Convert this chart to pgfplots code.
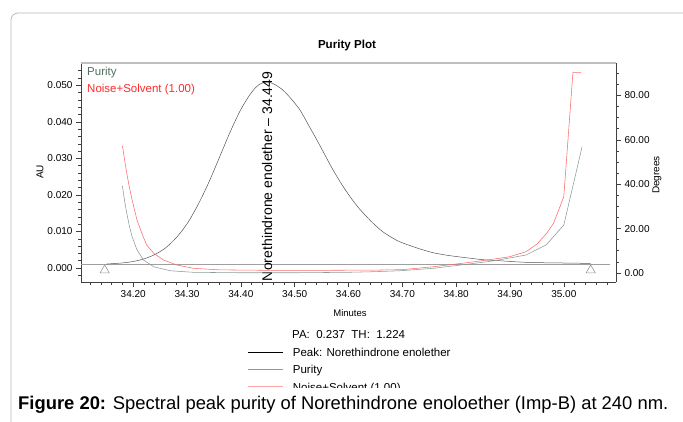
\documentclass[border=0pt]{standalone}
\usepackage{fontspec}
\setmainfont{Liberation Sans}
\usepackage{pgfplots}
\pgfplotsset{compat=1.18}
\definecolor{puritycol}{HTML}{8A9C93}
\definecolor{puritytxt}{HTML}{4F6F5F}
\definecolor{noisecol}{HTML}{FF6A6A}
\definecolor{noisetxt}{HTML}{FF2A2A}
\definecolor{chromcol}{HTML}{555555}
\definecolor{axcol}{HTML}{404040}
\newcommand\fs[1]{\fontsize{#1}{#1}\selectfont}
\pgfplotsset{
  common/.style={
    at={(81pt,-282.3pt)}, anchor=south west,
    scale only axis, width=535pt, height=219.3pt,
    xmin=34.103, xmax=35.097,
    tick align=outside,
    major tick length=5pt, minor tick length=3pt,
    every tick/.style={axcol, line width=0.6pt},
    axis line style={axcol, line width=0.6pt},
    ticklabel style={font=\fs{10}},
    /pgf/number format/assume math mode=true,
    clip=false,
  }
}
\begin{document}
\begin{tikzpicture}
\useasboundingbox (0pt,0pt) rectangle (683pt,-421pt);
\draw[gray!55, line width=0.8pt, rounded corners=7pt] (11pt,-440pt) -- (11pt,-13pt) -- (700pt,-13pt);

\begin{axis}[common,
  ymin=-0.0039, ymax=0.0561,
  axis y line*=left, axis x line*=bottom,
  xtick={34.2,34.3,34.4,34.5,34.6,34.7,34.8,34.9,35.0},
  minor xtick={34.12,34.14,...,35.09},
  ytick={0,0.01,0.02,0.03,0.04,0.05},
  minor ytick={-0.002,0,0.002,...,0.0555},
  xticklabel style={/pgf/number format/.cd, fixed, fixed zerofill, precision=2},
  yticklabel style={/pgf/number format/.cd, fixed, fixed zerofill, precision=3},
  scaled y ticks=false, scaled x ticks=false,
]
\addplot[gray!75, line width=0.6pt] coordinates {(34.103,0.0011) (35.085,0.0011)};
\addplot[chromcol, line width=0.5pt, smooth] coordinates {
(34.150,0.0011) (34.180,0.0014) (34.200,0.0018) (34.220,0.0025) (34.240,0.0037)
(34.260,0.0055) (34.280,0.0083) (34.300,0.0121) (34.320,0.0172) (34.340,0.0233)
(34.360,0.0302) (34.380,0.0372) (34.400,0.0434) (34.420,0.0481) (34.435,0.0503)
(34.449,0.0509) (34.462,0.0503)
(34.478,0.0487) (34.494,0.0462) (34.510,0.0432) (34.525,0.0393) (34.541,0.0351)
(34.556,0.0310) (34.571,0.0269) (34.587,0.0230) (34.603,0.0195) (34.618,0.0166)
(34.634,0.0140) (34.649,0.0118) (34.664,0.0099) (34.680,0.0084) (34.695,0.0072)
(34.727,0.0055) (34.757,0.0042) (34.788,0.0034) (34.820,0.0028) (34.849,0.0023)
(34.881,0.0020) (34.912,0.0017) (34.943,0.0015) (34.990,0.0014) (35.035,0.0013)
(35.050,0.0012)};
\addplot[only marks, mark=triangle, mark size=5.3pt, gray!80, mark options={line width=0.6pt}]
  coordinates {(34.147,-0.0006) (35.050,-0.0006)};
\node[rotate=90, anchor=west, inner sep=0pt, font=\fs{14}] at (axis cs:34.449,-0.0036)
  {Norethindrone enolether -- 34.449};
\end{axis}

\begin{axis}[common,
  ymin=-4.2, ymax=94.6,
  axis y line*=right, axis x line=none,
  ytick={0,20,40,60,80},
  minor ytick={-5,0,...,95},
  yticklabel style={/pgf/number format/.cd, fixed, fixed zerofill, precision=2},
]
\addplot[puritycol, line width=0.55pt] coordinates {
(34.180,39.2) (34.184,32.5) (34.188,26.9) (34.193,21.0) (34.198,16.4) (34.207,10.4)
(34.219,5.9) (34.238,2.8) (34.269,1.0) (34.312,0.3) (34.400,0.1) (34.500,0.1)
(34.600,0.3) (34.650,0.6) (34.695,1.0) (34.757,2.1) (34.819,3.9) (34.868,5.4)
(34.930,8.1) (34.967,12.6) (35.000,21.6) (35.034,56.9)};
\addplot[noisecol, line width=0.55pt] coordinates {
(34.180,57.2) (34.184,51.0) (34.188,44.9) (34.193,38.5) (34.198,32.9) (34.207,23.9)
(34.216,17.9) (34.225,12.6) (34.238,8.9) (34.256,5.9) (34.281,3.6) (34.312,2.1)
(34.361,1.4) (34.450,1.2) (34.550,1.2) (34.650,1.3) (34.700,1.5) (34.757,2.8)
(34.819,4.6) (34.868,6.2) (34.899,7.3) (34.930,9.6) (34.950,13.0) (34.967,17.5)
(34.981,22.4) (35.000,34.4) (35.017,90.4) (35.032,90.4)};
\draw[gray!50, line width=1.2pt] (rel axis cs:0,1) -- (rel axis cs:1,1);
\end{axis}

% titles and labels
\node[font=\bfseries\fs{11.6}, inner sep=0pt] at (347pt,-45.5pt) {Purity Plot};
\node[rotate=90, font=\fs{10}, inner sep=0pt] at (40pt,-172pt) {AU};
\node[rotate=90, font=\fs{10}, inner sep=0pt] at (657pt,-175pt) {Degrees};
\node[font=\fs{9.5}, inner sep=0pt] at (350pt,-313pt) {Minutes};
\node[anchor=west, font=\fs{11.5}, text=puritytxt, inner sep=0pt] at (87pt,-73pt) {Purity};
\node[anchor=west, font=\fs{11.5}, text=noisetxt, inner sep=0pt] at (87pt,-90pt) {Noise+Solvent (1.00)};

% legend below
\node[anchor=base west, font=\fs{11.5}, inner sep=0pt] at (292pt,-338pt) {PA:\ \ 0.237\ \ TH:\ \ 1.224};
\draw[black, line width=0.8pt] (248pt,-352.7pt) -- (283pt,-352.7pt);
\node[anchor=base west, font=\fs{11.5}, inner sep=0pt] at (292.7pt,-356.8pt) {Peak: Norethindrone enolether};
\draw[puritycol, line width=0.8pt] (248pt,-369.5pt) -- (283pt,-369.5pt);
\node[anchor=base west, font=\fs{11.5}, inner sep=0pt] at (292.7pt,-373.8pt) {Purity};
\draw[noisecol!60, line width=0.8pt] (248pt,-386.5pt) -- (283pt,-386.5pt);
\node[anchor=base west, font=\fs{11.5}, inner sep=0pt] at (292.7pt,-391pt) {Noise+Solvent (1.00)};
\fill[white] (12pt,-387.8pt) rectangle (683pt,-421pt);

% caption
\node[anchor=base west, font=\fs{18.4}, inner sep=0pt] at (18pt,-409.5pt)
  {\textbf{Figure 20:} Spectral peak purity of Norethindrone enoloether (Imp-B) at 240 nm.};
\end{tikzpicture}
\end{document}
